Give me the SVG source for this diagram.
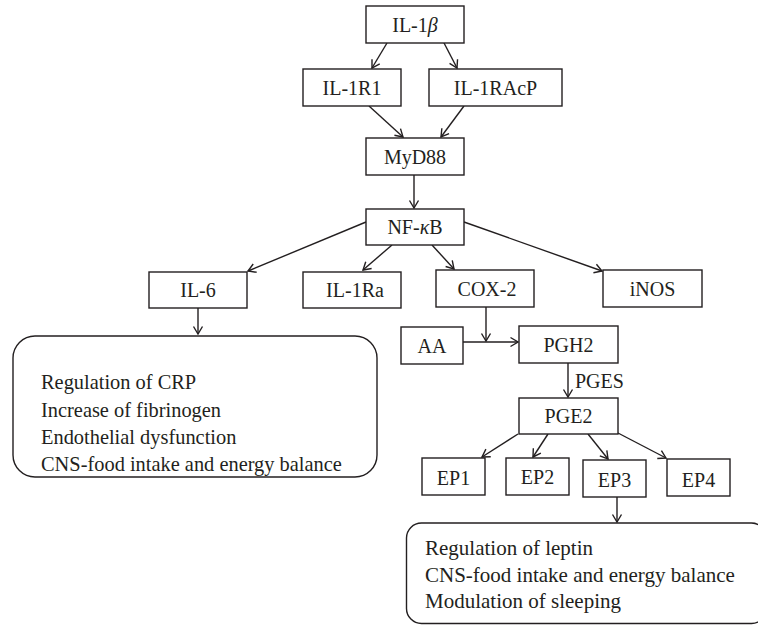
<svg xmlns="http://www.w3.org/2000/svg" width="758" height="627" viewBox="0 0 758 627">
<style>
.n rect{fill:#fff;stroke:#231f20;stroke-width:1.4}
.n text{font-family:"Liberation Serif","Times New Roman",serif;font-size:20px;fill:#231f20;text-anchor:middle}
.b rect{fill:#fff;stroke:#231f20;stroke-width:1.4}
.b text{font-family:"Liberation Serif","Times New Roman",serif;fill:#231f20}
#edges line{stroke:#231f20;stroke-width:1.4;marker-end:url(#ah)}
.lbl{font-family:"Liberation Serif","Times New Roman",serif;font-size:20px;fill:#231f20}
</style>
<defs>
<marker id="ah" markerUnits="userSpaceOnUse" viewBox="-9 -6 10 12" refX="0" refY="0" markerWidth="10" markerHeight="12" orient="auto">
<path d="M-7.5,-4.5 L0,0 L-7.5,4.5" fill="none" stroke="#231f20" stroke-width="1.4"/>
</marker>
</defs>
<rect width="758" height="627" fill="#fff"/>
<g id="edges">
<line x1="387" y1="43" x2="372" y2="68"/>
<line x1="443" y1="41" x2="457" y2="68"/>
<line x1="369" y1="106" x2="403" y2="137"/>
<line x1="464" y1="106" x2="441" y2="137"/>
<line x1="414" y1="175" x2="414" y2="208"/>
<line x1="366" y1="222" x2="248" y2="271"/>
<line x1="392" y1="245" x2="363" y2="270"/>
<line x1="432" y1="245" x2="454" y2="269"/>
<line x1="464" y1="222" x2="602" y2="271"/>
<line x1="198" y1="308" x2="198" y2="334"/>
<line x1="486" y1="307" x2="486" y2="341"/>
<line x1="463" y1="342" x2="518" y2="342"/>
<line x1="568" y1="363" x2="568" y2="397"/>
<line x1="518" y1="434" x2="482" y2="457"/>
<line x1="548" y1="434" x2="533" y2="457"/>
<line x1="588" y1="434" x2="608" y2="459"/>
<line x1="618" y1="433" x2="666" y2="458"/>
<line x1="617" y1="497" x2="617" y2="522"/>
<text class="lbl" x="575" y="388">PGES</text>
</g>
<g id="IL1b" class="n"><rect x="366" y="6" width="98" height="37"/><text x="415" y="32">IL-1<tspan font-style="italic">β</tspan></text></g>
<g id="IL1R1" class="n"><rect x="303" y="69" width="98" height="37"/><text x="352" y="95">IL-1R1</text></g>
<g id="IL1RAcP" class="n"><rect x="429" y="69" width="133" height="37"/><text x="495.5" y="95">IL-1RAcP</text></g>
<g id="MyD88" class="n"><rect x="366" y="138" width="98" height="37"/><text x="415" y="164">MyD88</text></g>
<g id="NFkB" class="n"><rect x="366" y="209" width="98" height="36"/><text x="415" y="234">NF-<tspan font-style="italic">κ</tspan>B</text></g>
<g id="IL6" class="n"><rect x="149" y="272" width="98" height="36"/><text x="198" y="297">IL-6</text></g>
<g id="IL1Ra" class="n"><rect x="303" y="272" width="98" height="36"/><text x="355" y="297">IL-1Ra</text></g>
<g id="COX2" class="n"><rect x="436" y="270" width="98" height="37"/><text x="487" y="296">COX-2</text></g>
<g id="iNOS" class="n"><rect x="603" y="270" width="99" height="37"/><text x="652.5" y="296">iNOS</text></g>
<g id="AA" class="n"><rect x="401" y="327" width="62" height="37"/><text x="432" y="353">AA</text></g>
<g id="PGH2" class="n"><rect x="519" y="326" width="99" height="37"/><text x="568.5" y="352">PGH2</text></g>
<g id="PGE2" class="n"><rect x="519" y="398" width="99" height="36"/><text x="568.5" y="423">PGE2</text></g>
<g id="EP1" class="n"><rect x="422" y="458" width="63" height="37"/><text x="453.5" y="485">EP1</text></g>
<g id="EP2" class="n"><rect x="506" y="458" width="63" height="37"/><text x="537.5" y="484">EP2</text></g>
<g id="EP3" class="n"><rect x="583" y="460" width="63" height="37"/><text x="614.5" y="487">EP3</text></g>
<g id="EP4" class="n"><rect x="667" y="459" width="63" height="37"/><text x="698.5" y="487">EP4</text></g>
<g id="effectsIL6" class="b"><rect x="13" y="336" width="364" height="141" rx="22" ry="22"/>
<text font-size="20.4" x="41" y="389">Regulation of CRP</text>
<text font-size="20.4" x="41" y="417">Increase of fibrinogen</text>
<text font-size="20.4" x="41" y="444">Endothelial dysfunction</text>
<text font-size="20.4" x="41" y="471">CNS-food intake and energy balance</text>
</g>
<g id="effectsEP3" class="b"><rect x="406.5" y="523" width="360" height="100.5" rx="15" ry="15"/>
<text font-size="21" x="425" y="555">Regulation of leptin</text>
<text font-size="21" x="425" y="582">CNS-food intake and energy balance</text>
<text font-size="21" x="425" y="608">Modulation of sleeping</text>
</g>
</svg>
